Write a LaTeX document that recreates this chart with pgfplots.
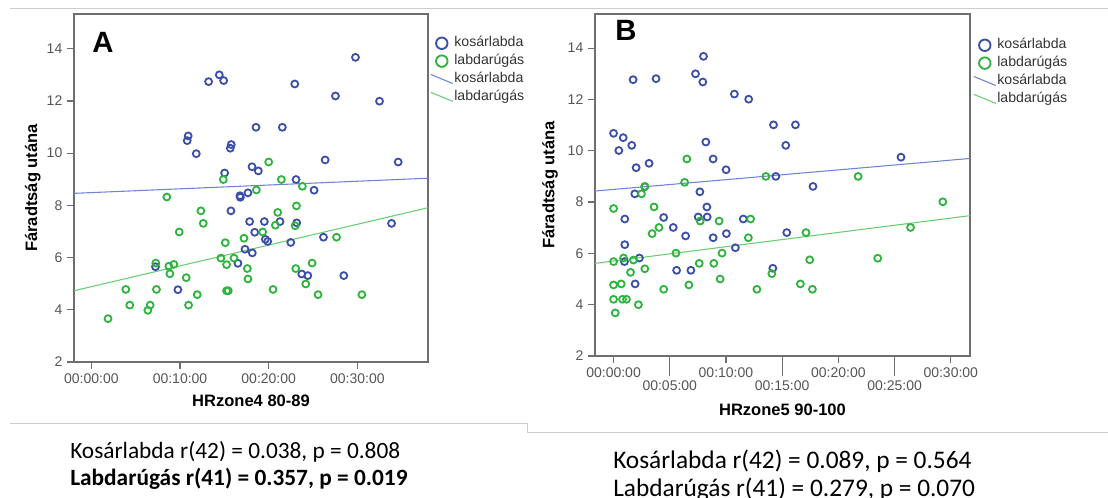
\documentclass[border=0pt]{standalone}
\usepackage{fontspec}
\setmainfont{Liberation Sans}
\newfontfamily\carlito{Carlito}
\usepackage{pgfplots}
\pgfplotsset{compat=1.18}

\definecolor{kblue}{RGB}{58,78,170}
\definecolor{kgreen}{RGB}{45,180,60}
\definecolor{lblue}{RGB}{112,130,212}
\definecolor{lgreen}{RGB}{105,205,115}
\definecolor{axgray}{RGB}{110,110,110}
\definecolor{tickgray}{RGB}{85,85,85}
\definecolor{framegray}{RGB}{205,205,205}

% scatter data, x in minutes
\pgfplotstableread{
x y
29.79 13.67
13.22 12.74
14.43 13.00
14.92 12.78
22.94 12.65
27.53 12.19
32.50 11.99
18.57 10.99
21.54 10.99
10.92 10.66
10.81 10.48
11.83 9.98
15.78 10.33
15.67 10.19
26.37 9.74
34.61 9.66
18.12 9.48
18.83 9.32
15.03 9.24
23.09 8.99
25.12 8.58
17.66 8.48
16.76 8.37
16.80 8.31
15.74 7.79
17.85 7.38
19.51 7.38
21.28 7.38
23.16 7.33
33.86 7.31
18.42 6.97
19.62 6.70
19.89 6.62
22.49 6.58
26.18 6.78
17.33 6.32
18.15 6.18
16.53 5.78
7.23 5.65
23.73 5.37
24.41 5.31
28.47 5.31
9.76 4.77
}\blueA

\pgfplotstableread{
x y
20.00 9.66
14.88 8.99
21.43 8.99
23.80 8.73
18.61 8.59
8.51 8.32
23.13 7.98
12.35 7.79
21.02 7.73
12.62 7.31
20.75 7.24
22.98 7.22
9.91 6.98
19.32 6.98
17.21 6.74
27.65 6.78
15.10 6.57
14.61 5.98
16.08 5.98
7.27 5.79
8.74 5.67
9.30 5.74
15.25 5.73
8.85 5.38
17.59 5.58
23.05 5.58
24.90 5.79
10.70 5.23
17.66 5.18
24.18 4.99
3.88 4.78
7.34 4.78
15.25 4.73
15.44 4.73
20.49 4.78
11.94 4.58
25.57 4.58
30.51 4.58
4.33 4.18
6.63 4.18
10.96 4.18
6.37 3.98
1.88 3.66
}\greenA

\pgfplotstableread{
x y
8.00 13.68
1.74 12.77
3.78 12.81
7.29 13.00
7.94 12.68
10.75 12.21
12.02 12.01
14.23 11.01
16.18 11.01
0.00 10.68
0.86 10.51
1.62 10.21
0.47 10.01
8.21 10.34
15.32 10.21
2.01 9.34
3.16 9.51
8.86 9.68
10.01 9.26
25.57 9.75
14.44 9.00
17.74 8.61
7.68 8.40
1.89 8.32
2.78 8.60
8.30 7.81
1.00 7.34
4.46 7.40
7.53 7.42
8.33 7.42
11.54 7.34
5.31 7.01
6.41 6.68
8.86 6.61
10.04 6.77
15.41 6.81
10.84 6.22
1.00 6.34
0.97 5.68
2.30 5.82
5.61 5.34
6.88 5.34
14.17 5.42
1.92 4.81
}\blueB

\pgfplotstableread{
x y
6.52 9.68
6.32 8.77
13.55 9.00
21.76 9.00
2.78 8.61
2.48 8.32
29.29 8.01
0.00 7.75
3.60 7.81
7.71 7.26
9.39 7.26
12.19 7.34
4.04 7.01
3.43 6.77
26.42 7.01
11.99 6.61
17.12 6.81
5.55 6.01
9.65 6.01
0.00 5.68
0.89 5.82
1.77 5.74
17.45 5.75
23.50 5.81
2.78 5.40
1.51 5.26
7.62 5.61
8.92 5.61
14.08 5.21
9.48 5.00
0.00 4.77
0.68 4.81
6.70 4.77
16.62 4.81
4.46 4.60
12.75 4.60
17.69 4.60
0.00 4.21
0.80 4.21
1.15 4.21
2.21 4.00
0.15 3.68
}\greenB

\pgfplotsset{
  spss/.style={
    scale only axis,
    axis line style={axgray, line width=1.1pt},
    tick style={axgray, line width=0.9pt},
    tick align=outside,
    major tick length=5.25pt,
    xtick pos=left, ytick pos=left,
    ymin=2, ymax=15.33,
    ytick={2,4,...,14},
    ticklabel style={font=\fontsize{10.5}{12}\selectfont, text=tickgray},
    /pgf/number format/assume math mode=true,
    label style={font=\bfseries\fontsize{12.4}{14}\selectfont},
    legend style={draw=none, fill=none, font=\fontsize{10.6}{12}\selectfont,
      text=black!80, row sep=2.9pt, inner sep=0pt, column sep=0.75pt,
      nodes={inner sep=0pt, text height=8pt, text depth=2.5pt},
      cells={anchor=west}},
    legend cell align=left,
  },
  dots/.style={only marks, mark=o, mark size=2.6pt, mark options={line width=1.35pt}},
  dotleg/.style={legend image code/.code={
      \path[draw=none, fill=none] (0,0) -- (16.5pt,0);
      \draw[#1, line width=1.4pt, fill=none] (8.25pt,0) circle (4.3pt);}},
  lineleg/.style={legend image code/.code={
      \draw[#1, line width=0.8pt] (0,3.4pt) -- (16.5pt,-3.4pt);}},
  regline/.style={no marks, line width=0.8pt},
}

\begin{document}
\begin{tikzpicture}
\useasboundingbox (0,0) rectangle (831pt,-372.75pt);
% light frame lines of the screenshot
\draw[framegray, line width=0.75pt] (7.5pt,-6pt) -- (831pt,-6pt);
\draw[framegray, line width=0.75pt] (7.5pt,-317.25pt) -- (395.25pt,-317.25pt) -- (395.25pt,-324pt) -- (831pt,-324pt);

% ---- panel A
\begin{axis}[spss,
  at={(55.5pt,-271.5pt)}, anchor=south west,
  width=265.5pt, height=261pt,
  xmin=-1.96, xmax=37.97,
  xtick={0,10,20,30},
  xticklabels={00:00:00,00:10:00,00:20:00,00:30:00},
  xlabel={HRzone4 80-89}, ylabel={Fáradtság utána},
  xlabel style={at={(axis description cs:0.5,-0.112)}, anchor=center},
  ylabel style={at={(axis description cs:-0.116,0.5)}, anchor=center},
  legend style={at={(1,1)}, anchor=north west, xshift=1.5pt, yshift=-16.5pt},
]
\addplot[dots, kblue, dotleg=kblue] table {\blueA};
\addlegendentry{kosárlabda}
\addplot[dots, kgreen, dotleg=kgreen] table {\greenA};
\addlegendentry{labdarúgás}
\addplot[regline, lblue, lineleg=lblue] coordinates {(-1.96,8.46) (37.97,9.04)};
\addlegendentry{kosárlabda}
\addplot[regline, lgreen, lineleg=lgreen] coordinates {(-1.96,4.73) (37.97,7.91)};
\addlegendentry{labdarúgás}
\node[anchor=north west, inner sep=0pt, font=\bfseries\fontsize{22}{22}\selectfont]
  at (rel axis cs:0,1) [xshift=13.5pt, yshift=-13.5pt] {A};
\end{axis}

% ---- panel B
\begin{axis}[spss,
  at={(446.25pt,-267pt)}, anchor=south west,
  width=281.25pt, height=256.5pt,
  xmin=-1.65, xmax=31.71,
  xtick={0,10,20,30},
  xticklabels={00:00:00,00:10:00,00:20:00,00:30:00},
  extra x ticks={5,15,25},
  extra x tick labels={00:05:00,00:15:00,00:25:00},
  extra x tick style={major tick length=15pt},
  xlabel={HRzone5 90-100}, ylabel={Fáradtság utána},
  xlabel style={at={(axis description cs:0.5,-0.158)}, anchor=center},
  ylabel style={at={(axis description cs:-0.12,0.5)}, anchor=center},
  legend style={at={(1,1)}, anchor=north west, xshift=2.25pt, yshift=-18pt},
]
\addplot[dots, kblue, dotleg=kblue] table {\blueB};
\addlegendentry{kosárlabda}
\addplot[dots, kgreen, dotleg=kgreen] table {\greenB};
\addlegendentry{labdarúgás}
\addplot[regline, lblue, lineleg=lblue] coordinates {(-1.65,8.43) (31.71,9.70)};
\addlegendentry{kosárlabda}
\addplot[regline, lgreen, lineleg=lgreen] coordinates {(-1.65,5.61) (31.71,7.47)};
\addlegendentry{labdarúgás}
\node[anchor=north west, inner sep=0pt, font=\bfseries\fontsize{22}{22}\selectfont]
  at (rel axis cs:0,1) [xshift=15pt, yshift=-4.5pt] {B};
\end{axis}

% ---- statistics under the panels
\node[anchor=west, inner sep=0pt, font=\carlito\fontsize{17.5}{20}\selectfont] at (52.5pt,-339pt)
  {Kosárlabda r(42) = 0.038, p = 0.808};
\node[anchor=west, inner sep=0pt, font=\carlito\bfseries\fontsize{17.5}{20}\selectfont] at (52.5pt,-359.25pt)
  {Labdarúgás r(41) = 0.357, p = 0.019};
\node[anchor=west, inner sep=0pt, font=\carlito\fontsize{19}{22}\selectfont] at (459.75pt,-345.75pt)
  {Kosárlabda r(42) = 0.089, p = 0.564};
\node[anchor=west, inner sep=0pt, font=\carlito\fontsize{19}{22}\selectfont] at (459.75pt,-366.75pt)
  {Labdarúgás r(41) = 0.279, p = 0.070};
\end{tikzpicture}
\end{document}
